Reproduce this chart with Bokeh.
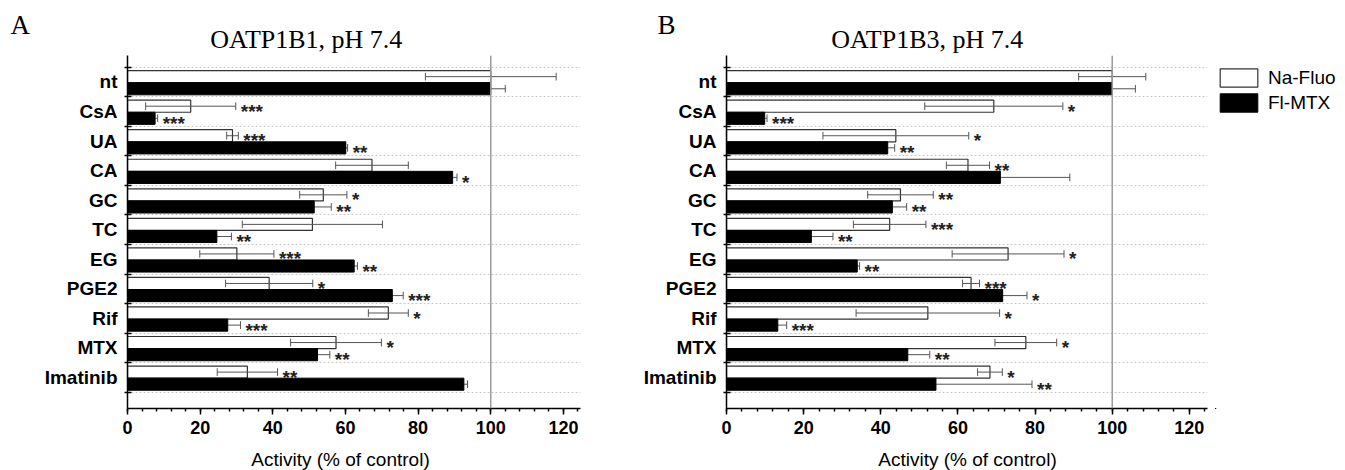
from bokeh.plotting import figure
from bokeh.models import Range1d, FixedTicker, Label, Legend, LegendItem, Span
from bokeh.layouts import row, column
from bokeh.embed import file_html
from bokeh.resources import INLINE
from bokeh.core.properties import value

categories = ["nt", "CsA", "UA", "CA", "GC", "TC", "EG", "PGE2", "Rif", "MTX", "Imatinib"]
x_ticks = [0, 20, 40, 60, 80, 100, 120]
series_names = ["Na-Fluo", "Fl-MTX"]

# OATP1B1, pH 7.4
b1_fluo = [100, 17.4, 28.9, 67.3, 53.9, 50.9, 30.1, 39.0, 71.8, 57.4, 33.0]
b1_fluo_err = [18, 12.4, 1.6, 10.0, 6.5, 19.3, 10.2, 12.0, 5.5, 12.5, 8.3]
b1_fluo_sig = ["", "***", "***", "", "*", "", "***", "*", "*", "*", "**"]
b1_mtx = [100, 7.6, 60.1, 89.5, 51.4, 24.6, 62.4, 72.9, 27.6, 52.3, 92.6]
b1_mtx_err = [4.0, 0.7, 0.5, 1.2, 4.7, 4.0, 0.9, 3.0, 3.5, 3.4, 1.0]
b1_mtx_sig = ["", "***", "**", "*", "**", "**", "**", "***", "***", "**", ""]

# OATP1B3, pH 7.4
b3_fluo = [100, 69.3, 43.9, 62.6, 45.1, 42.3, 73.0, 63.4, 52.2, 77.6, 68.3]
b3_fluo_err = [8.7, 17.9, 18.9, 5.6, 8.5, 9.4, 14.5, 2.2, 18.6, 8.0, 3.2]
b3_fluo_sig = ["", "*", "*", "**", "**", "***", "*", "***", "*", "*", "*"]
b3_mtx = [100, 9.9, 41.8, 71.0, 43.0, 22.0, 33.9, 71.6, 13.3, 47.0, 54.3]
b3_mtx_err = [6.0, 0.6, 1.8, 18.0, 3.7, 5.6, 0.6, 6.3, 2.3, 5.7, 24.9]
b3_mtx_sig = ["", "***", "**", "", "**", "**", "**", "*", "***", "**", "**"]

SANS = "Liberation Sans"
SERIF = "Liberation Serif"
ERR_COLOR = "#555555"
W = 1345
HEADER_H = 55
FOOTER_H = 28
PANEL_H = 387
WHITE_STYLE = dict(fill_color="white", line_color="#333333", line_width=1.2)
BLACK_STYLE = dict(fill_color="black", line_color="black", line_width=1)


def blank_fig(width, height, top, left=0):
    f = figure(width=width, height=height, output_backend="svg", toolbar_location=None,
               x_range=Range1d(left, left + width), y_range=Range1d(top + height, top),
               x_axis_type=None, y_axis_type=None,
               min_border_left=0, min_border_right=0, min_border_top=0,
               min_border_bottom=0)
    f.outline_line_color = None
    f.grid.visible = False
    return f


def make_panel(width, bl, br, fluo, fluo_err, fluo_sig, mtx, mtx_err, mtx_sig):
    n = len(categories)
    p = figure(width=width, height=PANEL_H, output_backend="svg", toolbar_location=None,
               x_range=Range1d(0, 124.7), y_range=Range1d(11.552, -0.396),
               min_border_left=bl, min_border_right=br, min_border_top=0,
               min_border_bottom=34)
    p.outline_line_color = None
    p.xgrid.visible = False
    bounds = list(range(n + 1))
    centers = [i + 0.5 for i in range(n)]
    p.ygrid.ticker = FixedTicker(ticks=bounds)
    p.ygrid.grid_line_color = "#c8c8c8"
    p.ygrid.grid_line_dash = "2 2"
    p.ygrid.grid_line_width = 1

    yw = [i + 0.32 for i in range(n)]
    yb = [i + 0.73 for i in range(n)]
    h = 0.41

    p.hbar(y=yw, left=0, right=fluo, height=h, **WHITE_STYLE)

    def whiskers(ys, vals, errs):
        lo = [v - e for v, e in zip(vals, errs)]
        hi = [v + e for v, e in zip(vals, errs)]
        p.segment(x0=lo, y0=ys, x1=hi, y1=ys, line_color=ERR_COLOR, line_width=1)
        cap = 0.13
        p.segment(x0=lo, y0=[y - cap for y in ys], x1=lo, y1=[y + cap for y in ys],
                  line_color=ERR_COLOR, line_width=1)
        p.segment(x0=hi, y0=[y - cap for y in ys], x1=hi, y1=[y + cap for y in ys],
                  line_color=ERR_COLOR, line_width=1)
        return hi

    hi_w = whiskers(yw, fluo, fluo_err)
    hi_b = whiskers(yb, mtx, mtx_err)

    p.hbar(y=yb, left=0, right=mtx, height=h, **BLACK_STYLE)

    for xs, ys, labels in ((hi_w, yw, fluo_sig), (hi_b, yb, mtx_sig)):
        p.text(x=xs, y=ys, text=labels, text_font=value(SANS), text_font_size="19px",
               text_font_style="bold", text_color="#222222", text_baseline="middle",
               text_align="left", x_offset=5, y_offset=5)

    p.add_layout(Span(location=100, dimension="height", line_color="#9a9a9a",
                      line_width=1.5))

    ya = p.yaxis[0]
    ya.ticker = FixedTicker(ticks=centers, minor_ticks=bounds)
    ya.major_label_overrides = {c: name for c, name in zip(centers, categories)}
    ya.major_tick_in = 0
    ya.major_tick_out = 0
    ya.minor_tick_in = 4
    ya.minor_tick_out = 3
    ya.minor_tick_line_width = 1.5
    ya.minor_tick_line_color = "black"
    ya.axis_line_width = 1.5
    ya.axis_line_color = "black"
    ya.major_label_text_font = SANS
    ya.major_label_text_font_style = "bold"
    ya.major_label_text_font_size = "19px"
    ya.major_label_text_color = "black"
    ya.major_label_standoff = 7

    xa = p.xaxis[0]
    xa.ticker = FixedTicker(ticks=x_ticks, minor_ticks=list(range(0, 125, 4)))
    xa.major_tick_in = 0
    xa.major_tick_out = 6
    xa.minor_tick_in = 0
    xa.minor_tick_out = 3
    xa.major_tick_line_width = 1.5
    xa.minor_tick_line_width = 1.5
    xa.major_tick_line_color = "black"
    xa.minor_tick_line_color = "black"
    xa.axis_line_width = 1.5
    xa.axis_line_color = "black"
    xa.major_label_text_font = SANS
    xa.major_label_text_font_style = "bold"
    xa.major_label_text_font_size = "18px"
    xa.major_label_text_color = "black"
    xa.major_label_standoff = 6
    return p


p1 = make_panel(640, 127, 60,
                b1_fluo, b1_fluo_err, b1_fluo_sig, b1_mtx, b1_mtx_err, b1_mtx_sig)
p2 = make_panel(575, 86, 8,
                b3_fluo, b3_fluo_err, b3_fluo_sig, b3_mtx, b3_mtx_err, b3_mtx_sig)

# legend column to the right of panel B; its bar renderers carry panel B's data
# but lie entirely outside this figure's visible ranges, so only the legend keys show.
leg_fig = figure(width=W - 640 - 575, height=PANEL_H, output_backend="svg",
                 toolbar_location=None, x_range=Range1d(500, 501),
                 y_range=Range1d(500, 501), x_axis_type=None, y_axis_type=None,
                 min_border_left=0, min_border_right=0, min_border_top=0,
                 min_border_bottom=0)
leg_fig.outline_line_color = None
leg_fig.grid.visible = False
idx = list(range(len(categories)))
lw = leg_fig.hbar(y=idx, left=0, right=b3_fluo, height=0.4, **WHITE_STYLE)
lb = leg_fig.hbar(y=idx, left=0, right=b3_mtx, height=0.4, **BLACK_STYLE)
legend = Legend(items=[LegendItem(label=series_names[0], renderers=[lw], index=0),
                       LegendItem(label=series_names[1], renderers=[lb], index=0)],
                location=(0, 294), glyph_width=47, glyph_height=23, label_height=23,
                spacing=2, padding=0, margin=0, label_standoff=6,
                label_text_font=SANS, label_text_font_size="19px",
                label_text_color="black", border_line_color=None,
                background_fill_alpha=0)
leg_fig.add_layout(legend)

header = blank_fig(W, HEADER_H, 0)
for x, y, txt, size, align in ((10, 24, "A", "27px", "left"),
                               (305.8, 38.5, "OATP1B1, pH 7.4", "26px", "center"),
                               (657, 24, "B", "27px", "left"),
                               (926.7, 38.5, "OATP1B3, pH 7.4", "26px", "center")):
    header.add_layout(Label(x=x, y=y, text=txt, text_font=SERIF, text_font_size=size,
                            text_align=align, text_baseline="middle",
                            text_color="black"))

footer_top = HEADER_H + PANEL_H
footer = blank_fig(W, FOOTER_H, footer_top)
for x in (340, 967):
    footer.add_layout(Label(x=x, y=458.5, text="Activity (% of control)", text_font=SANS,
                            text_font_size="19px", text_align="center",
                            text_baseline="middle", text_color="black"))

layout = column(header, row(p1, p2, leg_fig), footer)
open("out.html", "w").write(file_html(layout, INLINE))
